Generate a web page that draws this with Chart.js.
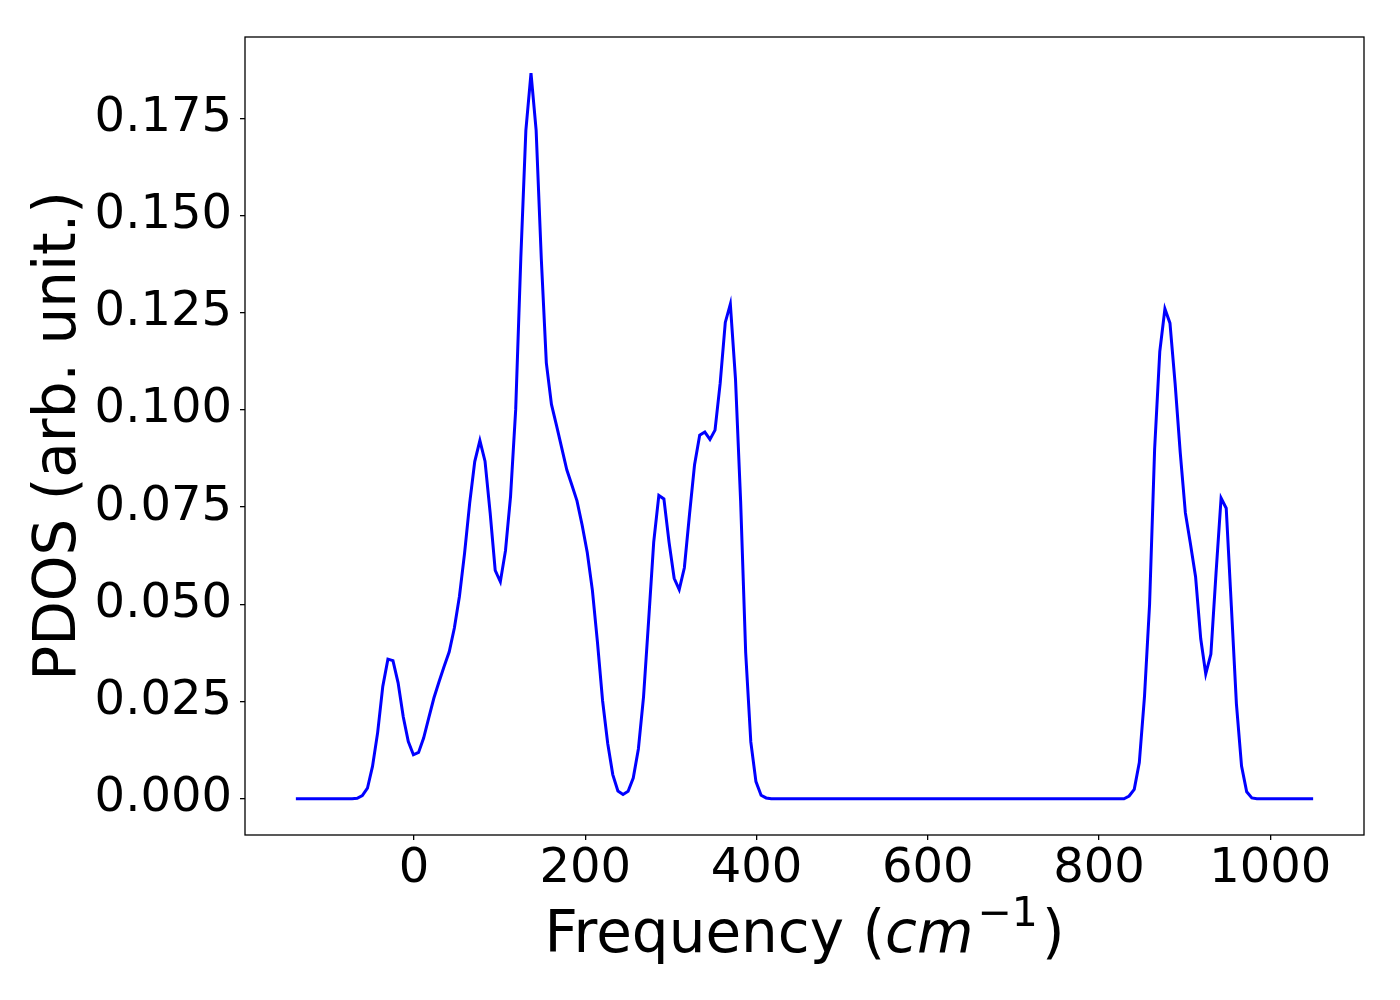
<!DOCTYPE html>
<html>
<head>
<meta charset="utf-8">
<script src="https://cdn.jsdelivr.net/npm/chart.js@4.4.0/dist/chart.umd.min.js"></script>
<style>
html, body { margin: 0; padding: 0; background: #fff; }
#wrap { width: 1400px; height: 1000px; }
</style>
</head>
<body>
<div id="wrap"><canvas id="myChart" width="1400" height="1000"></canvas></div>
<script>
// sampled frequencies (cm^-1), long zero stretches only keep their ends
let freq = [
  -138.0,
  -72.3, -66.4, -60.4, -54.4, -48.5, -42.5, -36.5, -30.5, -24.6, -18.6,
  -12.6, -6.7, -0.7, 5.3, 11.2, 17.2, 23.2, 29.2, 35.1, 41.1,
  47.1, 53.0, 59.0, 65.0, 70.9, 76.9, 82.9, 88.9, 94.8, 100.8,
  106.8, 112.7, 118.7, 124.7, 130.6, 136.6, 142.6, 148.6, 154.5, 160.5,
  166.5, 172.4, 178.4, 184.4, 190.3, 196.3, 202.3, 208.3, 214.2, 220.2,
  226.2, 232.1, 238.1, 244.1, 250.0, 256.0, 262.0, 268.0, 273.9, 279.9,
  285.9, 291.8, 297.8, 303.8, 309.7, 315.7, 321.7, 327.6, 333.6, 339.6,
  345.6, 351.5, 357.5, 363.5, 369.4, 375.4, 381.4, 387.3, 393.3, 399.3,
  405.3, 411.2, 417.2,
  823.1, 829.1, 835.1, 841.1, 847.0, 853.0, 859.0, 864.9, 870.9, 876.9,
  882.8, 888.8, 894.8, 900.8, 906.7, 912.7, 918.7, 924.6, 930.6, 936.6,
  942.5, 948.5, 954.5, 960.4, 966.4, 972.4, 978.4, 984.3,
  1050.0
]
let pdos = [
  0,
  0, 0.0001, 0.0008, 0.0027, 0.0083, 0.0170, 0.0289, 0.0359, 0.0355, 0.0298,
  0.0211, 0.0147, 0.0113, 0.0119, 0.0156, 0.0208, 0.0259, 0.0301, 0.0340, 0.0378,
  0.0439, 0.0520, 0.0631, 0.0760, 0.0867, 0.0921, 0.0868, 0.0735, 0.0587, 0.0558,
  0.0638, 0.0777, 0.1000, 0.1390, 0.1719, 0.1866, 0.1719, 0.1390, 0.1121, 0.1014,
  0.0959, 0.0903, 0.0846, 0.0806, 0.0766, 0.0704, 0.0633, 0.0536, 0.0403, 0.0252,
  0.0142, 0.0062, 0.0020, 0.0011, 0.0019, 0.0053, 0.0128, 0.0261, 0.0456, 0.0660,
  0.0780, 0.0771, 0.0660, 0.0567, 0.0538, 0.0594, 0.0731, 0.0859, 0.0935, 0.0943,
  0.0924, 0.0948, 0.1068, 0.1225, 0.1272, 0.1080, 0.0766, 0.0376, 0.0146, 0.0044,
  0.0009, 0.0002, 0,
  0, 0, 0.0007, 0.0024, 0.0093, 0.0261, 0.0500, 0.0900, 0.1150, 0.1260,
  0.1223, 0.1068, 0.0890, 0.0735, 0.0656, 0.0571, 0.0412, 0.0321, 0.0372, 0.0580,
  0.0773, 0.0747, 0.0495, 0.0244, 0.0084, 0.0018, 0.0002, 0,
  0
]
let xTicks = [0, 200, 400, 600, 800, 1000]
let yTicks = [0, 0.025, 0.05, 0.075, 0.1, 0.125, 0.15, 0.175]
let xTitleParts = ['Frequency (', 'cm', '\u22121', ')']
let yTitle = 'PDOS (arb. unit.)'

let points = freq.map((f, i) => ({ x: f, y: pdos[i] }))

// axes box + titles, matplotlib style
let framePlugin = {
  id: 'frame',
  afterDraw(chart) {
    let c = chart.ctx
    let a = chart.chartArea
    c.save()
    c.strokeStyle = '#000'
    c.lineWidth = 1.3
    c.strokeRect(a.left, a.top, a.right - a.left, a.bottom - a.top)

    // x title with italic cm and superscript
    let big = '58px "DejaVu Sans"'
    let ital = 'oblique 58px "DejaVu Sans"'
    let sup = '41px "DejaVu Sans"'
    c.fillStyle = '#000'
    c.textBaseline = 'alphabetic'
    c.font = big; let w0 = c.measureText(xTitleParts[0]).width
    c.font = ital; let w1 = c.measureText(xTitleParts[1]).width
    c.font = sup; let w2 = c.measureText(xTitleParts[2]).width
    c.font = big; let w3 = c.measureText(xTitleParts[3]).width
    let total = w0 + w1 + 4 + w2 + 4 + w3
    let x = (a.left + a.right) / 2 - total / 2
    let base = 952
    c.textAlign = 'left'
    c.font = big; c.fillText(xTitleParts[0], x, base); x += w0
    c.font = ital; c.fillText(xTitleParts[1], x, base); x += w1 + 4
    c.font = sup; c.fillText(xTitleParts[2], x, base - 26); x += w2 + 4
    c.font = big; c.fillText(xTitleParts[3], x, base)

    // y title
    c.translate(60, (a.top + a.bottom) / 2)
    c.rotate(-Math.PI / 2)
    c.textAlign = 'center'
    c.textBaseline = 'middle'
    c.font = big
    c.fillText(yTitle, 0, 0)
    c.restore()
  }
}

let ctx = document.getElementById('myChart').getContext('2d')

let myChart = new Chart(ctx, {
  type: 'line',
  data: {
    datasets: [{
      data: points,
      borderColor: '#0000ff',
      borderWidth: 3,
      pointRadius: 0,
      tension: 0,
      fill: false
    }]
  },
  options: {
    responsive: false,
    animation: false,
    devicePixelRatio: 1,
    layout: { padding: { left: 0, top: 37, right: 36, bottom: 0 } },
    plugins: { legend: { display: false }, tooltip: { enabled: false } },
    scales: {
      x: {
        type: 'linear',
        min: -197.4,
        max: 1109.4,
        afterBuildTicks: s => { s.ticks = xTicks.map(v => ({ value: v })) },
        afterFit: s => { s.height = 165 },
        grid: { drawOnChartArea: false, drawTicks: true, tickLength: 5, color: '#000', lineWidth: 1.3 },
        border: { display: false },
        ticks: {
          color: '#000',
          padding: 1,
          maxRotation: 0,
          font: { family: 'DejaVu Sans', size: 48 },
          callback: v => String(v)
        }
      },
      y: {
        type: 'linear',
        min: -0.00933,
        max: 0.1959,
        afterBuildTicks: s => { s.ticks = yTicks.map(v => ({ value: v })) },
        afterFit: s => { s.width = 245 },
        grid: { drawOnChartArea: false, drawTicks: true, tickLength: 5, color: '#000', lineWidth: 1.3 },
        border: { display: false },
        ticks: {
          color: '#000',
          padding: 8,
          font: { family: 'DejaVu Sans', size: 48 },
          callback: v => v.toFixed(3)
        }
      }
    }
  },
  plugins: [framePlugin]
})
</script>
</body>
</html>
